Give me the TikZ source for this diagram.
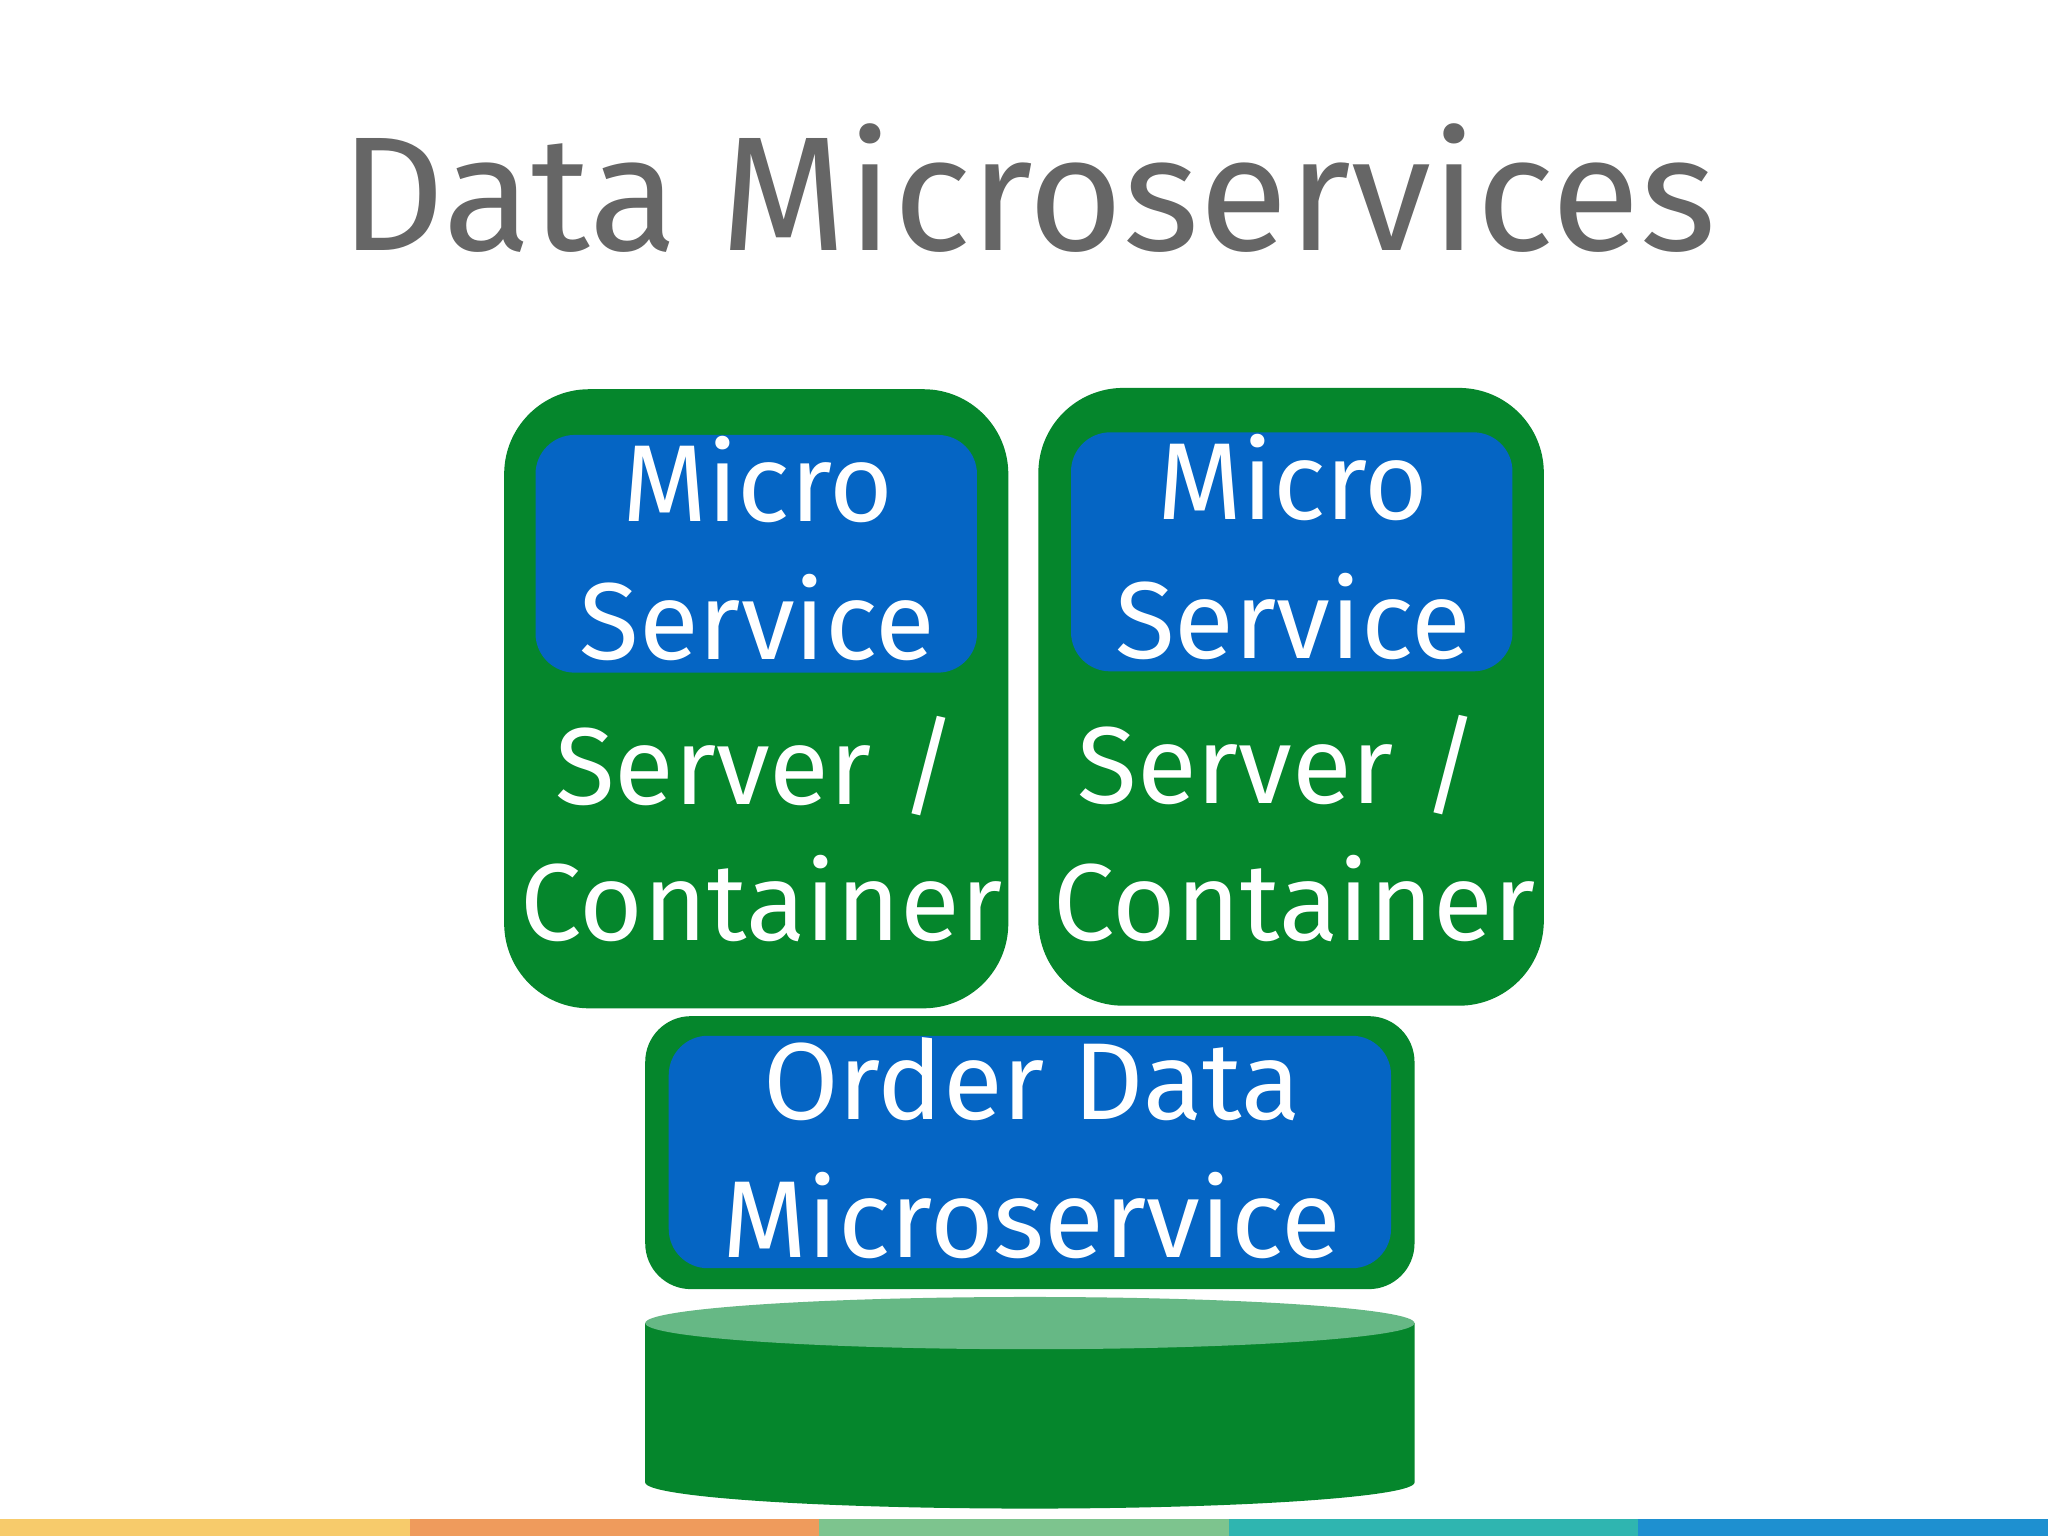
\documentclass[tikz,border=0pt]{standalone}
\usepackage{fontspec}
\setmainfont{Fira Sans}
\definecolor{gr}{HTML}{05862C}
\definecolor{bl}{HTML}{0565C4}
\definecolor{lg}{HTML}{66B885}
\definecolor{tg}{HTML}{666666}
\definecolor{s1}{HTML}{F7CB6B}
\definecolor{s2}{HTML}{EF9B5C}
\definecolor{s3}{HTML}{7DC48E}
\definecolor{s4}{HTML}{2FB5B0}
\definecolor{s5}{HTML}{1E90D0}
\begin{document}
\begin{tikzpicture}[x=0.01cm,y=-0.01cm,
  outer/.style={fill=gr,rounded corners=0.65cm},
  inner/.style={fill=bl,rounded corners=0.3cm},
  lbl/.style={text=white,font=\fontsize{23.8}{28}\selectfont,inner sep=0,anchor=base}]
\useasboundingbox (0,0) rectangle (1568,1176);
\fill[white] (0,0) rectangle (1568,1176);
\node[text=tg,font=\fontsize{35.4}{40}\selectfont,anchor=base,inner sep=0] (title) at (787,192) {Data Microservices};
% left
\fill[outer] (386,298) rectangle (772,772);
\fill[inner] (410,333) rectangle (748,515);
\node[lbl] (l1) at (580,399) {Micro};
\node[lbl] (l2) at (580,505) {Service};
\node[lbl] (l3) at (579,616) {Server /};
\node[lbl] (l4) at (583,720) {Container};
% right
\fill[outer] (795,297) rectangle (1182,770);
\fill[inner] (820,331) rectangle (1158,514);
\node[lbl] (r1) at (990,398) {Micro};
\node[lbl] (r2) at (990,504) {Service};
\node[lbl] (r3) at (979,615) {Server /};
\node[lbl] (r4) at (991,720) {Container};
% bottom
\fill[fill=gr,rounded corners=0.35cm] (494,778) rectangle (1083,987);
\fill[fill=bl,rounded corners=0.3cm] (512,793) rectangle (1065,971);
\node[lbl] (b1) at (790,857) {Order Data};
\node[lbl] (b2) at (790,963) {Microservice};
% cylinder
\fill[gr] (494,1013) -- (494,1135) arc[start angle=180,end angle=360,x radius=294.5,y radius=-20] -- (1083,1013) -- cycle;
\fill[lg] (788.5,1013) ellipse[x radius=294.5,y radius=20];
% stripe
\fill[s1] (0,1163) rectangle (314,1176);
\fill[s2] (314,1163) rectangle (627,1176);
\fill[s3] (627,1163) rectangle (941,1176);
\fill[s4] (941,1163) rectangle (1254,1176);
\fill[s5] (1254,1163) rectangle (1568,1176);
\end{tikzpicture}
\end{document}
